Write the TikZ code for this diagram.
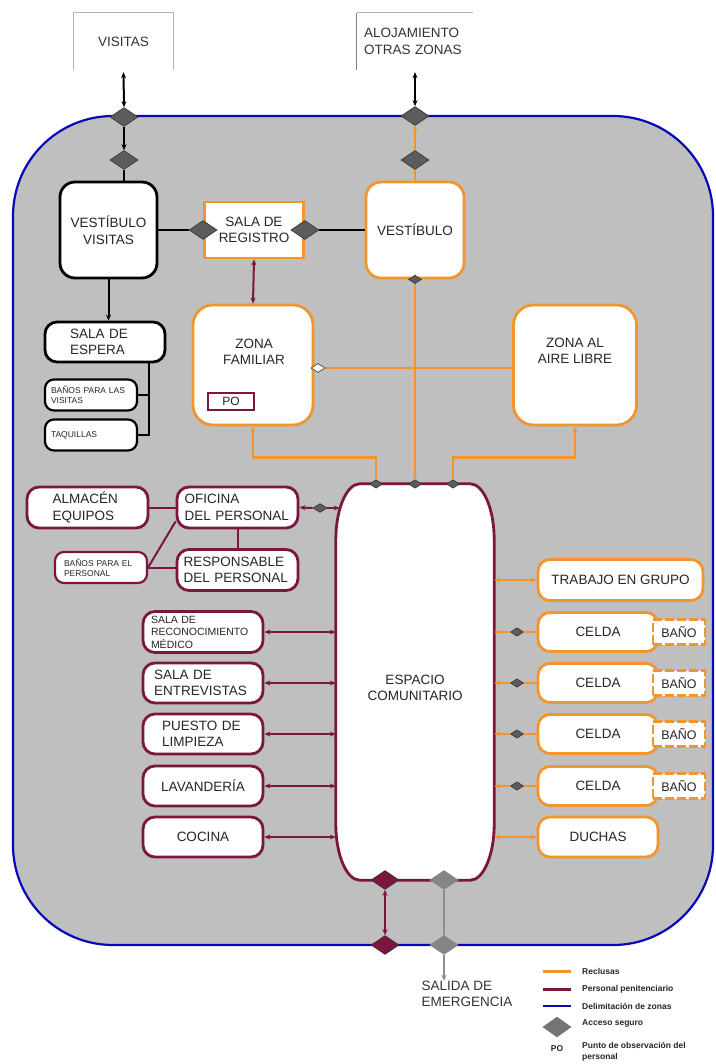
\documentclass[tikz,border=0pt]{standalone}
\usepackage{fontspec}
\setmainfont{Liberation Sans}
\usetikzlibrary{positioning, shapes.geometric, arrows.meta, calc}

\definecolor{naranja}{RGB}{241,150,46}
\definecolor{granate}{RGB}{122,22,64}
\definecolor{azulzona}{RGB}{8,8,185}
\definecolor{fondo}{RGB}{191,191,191}
\definecolor{gris}{RGB}{92,92,92}
\definecolor{grisclaro}{RGB}{140,140,140}

\tikzstyle{sala}=[
  rectangle,
  rounded corners=12pt,
  fill=white,
  line width=2.8pt,
  inner sep=0pt,
  align=center,
  text=black!85,
  font={\fontsize{13.5}{16.5}\selectfont}
]
\tikzstyle{visita}=[sala, draw=black]
\tikzstyle{reclusa}=[sala, draw=naranja]
\tikzstyle{personal}=[sala, draw=granate]
\tikzstyle{chica}=[font={\fontsize{8.5}{10}\selectfont}, line width=2.2pt, rounded corners=9pt]
\tikzstyle{bano}=[rectangle, draw=naranja, dash pattern=on 9pt off 3pt, line width=2.4pt,
  fill=white, inner sep=0pt, minimum width=52pt, minimum height=25pt,
  text=black!85, font={\fontsize{12.5}{14}\selectfont}]
\tikzstyle{acceso}=[diamond, fill=gris, draw=black!80, line width=0.6pt,
  minimum width=28pt, minimum height=19pt, inner sep=0pt]
\tikzstyle{accesop}=[acceso, minimum width=13pt, minimum height=8.5pt]
\tikzstyle{exterior}=[rectangle, inner sep=0pt, text=black!80, font={\fontsize{13.5}{16.5}\selectfont}]
\tikzstyle{rotulo}=[inner sep=0pt, align=center, text=black!85, font={\fontsize{13.5}{16.5}\selectfont}]
\tikzstyle{ley}=[anchor=west, inner sep=0pt, align=left, text=black!85,
  font={\fontsize{8.5}{10.5}\selectfont\bfseries}]
\tikzstyle{lvis}=[draw=black, line width=2pt]
\tikzstyle{lrec}=[draw=naranja, line width=2.6pt]
\tikzstyle{lper}=[draw=granate, line width=2pt]
\tikzstyle{lsal}=[draw=grisclaro, line width=2.4pt]

\begin{document}
\begin{tikzpicture}[x=1pt, y=-1pt, >={Stealth[length=6pt,width=5pt]}]

\newcommand\RADX{24}
\newcommand\RADY{56}

\useasboundingbox (0,0) rectangle (715,1064);

%% zona
\draw[draw=azulzona, fill=fondo, line width=2.2pt, rounded corners=100pt] (13,116) rectangle (713,945);

%% exterior
\node[exterior, minimum width=99pt, minimum height=57pt] (visitas) at (123.5,41.5) {VISITAS};
\node[exterior, minimum width=116pt, minimum height=57pt, text width=102pt, align=left] (alojamiento) at (415,41.5) {ALOJAMIENTO\\OTRAS ZONAS};
\draw[black!30, line width=0.8pt] (visitas.south west) -- (visitas.north west) -- (visitas.north east) -- (visitas.south east);
\draw[black!50, line width=0.8pt] (alojamiento.south west) -- (alojamiento.north west);
\draw[black!30, line width=0.8pt] (alojamiento.north west) -- (alojamiento.north east);

\node[acceso] (visA) at (124,117) {};
\node[acceso] (visB) at (124,160) {};
\node[acceso] (aloA) at (415,116) {};
\node[acceso] (aloB) at (415,160) {};

\draw[lvis, <->] ([yshift=-2pt]visitas.south) -- (visA.north);
\draw[lvis, ->] (visA.south) -- (visB.north);
\draw[lvis, <->] ([yshift=-2pt]alojamiento.south) -- (aloA.north);
\draw[lrec, ->] (aloB.north) -- (aloA.south);

%% visitas
\node[visita, minimum width=97pt, minimum height=96pt, rounded corners=15pt] (vestvis) at (108.5,230) {VESTÍBULO\\VISITAS};
\draw[lvis] (visB.south) -- (visB.south |- vestvis.north);
\node[visita, minimum width=120pt, minimum height=40pt, text width=70pt, align=left] (espera) at (105,342) {SALA DE\\ESPERA};
\draw[lvis, ->] (vestvis.south) -- (vestvis.south |- espera.north);
\node[visita, chica, minimum width=92pt, minimum height=31pt, text width=80pt, align=left] (banosvis) at (91,395) {BAÑOS PARA LAS\\VISITAS};
\node[visita, chica, minimum width=92pt, minimum height=31pt, text width=80pt, align=left] (taquillas) at (91,435) {TAQUILLAS};
\coordinate (esperaJ) at ($(espera.south east)+(-17,0)$);
\draw[lvis] (esperaJ) |- (taquillas.east);
\draw[lvis] (banosvis.east) -- (banosvis.east -| esperaJ);

%% registro y vestibulo
\node[reclusa, rounded corners=0pt, minimum width=99pt, minimum height=56pt] (registro) at (254,230) {SALA DE\\REGISTRO};
\node[reclusa, minimum width=98pt, minimum height=96pt, rounded corners=15pt] (vestibulo) at (415,230) {VESTÍBULO};
\node[acceso] (regA) at (registro.west) {};
\node[acceso] (regB) at (registro.east) {};
\draw[lvis] (vestvis.east) -- (regA.west);
\draw[lvis] (regB.east) -- (vestibulo.west);
\draw[lrec] (aloB.south) -- (vestibulo.north);
\node[accesop] (vestA) at (vestibulo.south) {};

%% zonas de reclusas
\node[reclusa, minimum width=120pt, minimum height=120pt, rounded corners=20pt] (familiar) at (253,365) {};
\node[rotulo] (familiarT) at (254,352) {ZONA\\FAMILIAR};
\node[rectangle, draw=granate, line width=2pt, fill=white, minimum width=46pt, minimum height=17pt,
  inner sep=0pt, text=black!85, font={\fontsize{12}{14}\selectfont}] (po) at (231,401) {PO};
\node[reclusa, minimum width=123pt, minimum height=120pt, rounded corners=20pt] (airelibre) at (575,365) {};
\node[rotulo] (airelibreT) at (575,351) {ZONA AL\\AIRE LIBRE};
\node[accesop, fill=white, minimum width=14pt, minimum height=9pt] (familiarA) at (318,368) {};
\draw[lrec] (familiarA.east) -- (familiarA -| airelibre.west);
\draw[lper, <->] (registro.south) -- (familiar.north);

%% espacio comunitario
\node[minimum width=158pt, minimum height=396pt, inner sep=0pt] (espacio) at (415,682) {};
\draw[draw=granate, line width=2.8pt, fill=white]
  ($(espacio.north west)+(\RADX,0)$) -- ($(espacio.north east)+(-\RADX,0)$)
  .. controls ($(espacio.north east)+(-0.45*\RADX,0)$) and ($(espacio.north east)+(0,0.45*\RADY)$) .. ($(espacio.north east)+(0,\RADY)$)
  -- ($(espacio.south east)+(0,-\RADY)$)
  .. controls ($(espacio.south east)+(0,-0.45*\RADY)$) and ($(espacio.south east)+(-0.45*\RADX,0)$) .. ($(espacio.south east)+(-\RADX,0)$)
  -- ($(espacio.south west)+(\RADX,0)$)
  .. controls ($(espacio.south west)+(0.45*\RADX,0)$) and ($(espacio.south west)+(0,-0.45*\RADY)$) .. ($(espacio.south west)+(0,-\RADY)$)
  -- ($(espacio.north west)+(0,\RADY)$)
  .. controls ($(espacio.north west)+(0,0.45*\RADY)$) and ($(espacio.north west)+(0.45*\RADX,0)$) .. ($(espacio.north west)+(\RADX,0)$)
  -- cycle;
\node[rotulo] (espacioT) at (415,688) {ESPACIO\\COMUNITARIO};

\node[accesop] (espA) at (376,484) {};
\node[accesop] (espB) at (415,484) {};
\node[accesop] (espC) at (453,484) {};
\draw[lrec, ->] (vestA.south) -- (espB.north);
\draw[lrec, ->] (espA.north) -- ++(0,-22) -| (familiar.south);
\draw[lrec, ->] (espC.north) -- ++(0,-22) -| (airelibre.south);

%% personal
\node[personal, minimum width=121pt, minimum height=41pt, text width=70pt, align=left] (almacen) at (87.5,507.5) {ALMACÉN\\EQUIPOS};
\node[personal, minimum width=121pt, minimum height=41pt, text width=106pt, align=left] (oficina) at (237.5,507.5) {OFICINA\\DEL PERSONAL};
\node[personal, chica, minimum width=92pt, minimum height=31pt, text width=74pt, align=left] (banosper) at (101,567.5) {BAÑOS PARA EL\\PERSONAL};
\node[personal, minimum width=121pt, minimum height=41pt, text width=108pt, align=left] (responsable) at (237.5,570) {RESPONSABLE\\DEL PERSONAL};
\draw[lper] (almacen.east) -- (oficina.west);
\draw[lper] (oficina.south) -- (responsable.north);
\draw[lper] (banosper.east) -- (banosper.east -| responsable.west);
\draw[lper] (banosper.east) -- ($(oficina.south west)+(0,-8)$);
\node[accesop, minimum width=14pt, minimum height=9pt] (oficinaA) at (320,508) {};
\draw[lper, <-] (oficina.east) -- (oficinaA.west);
\draw[lper, ->] (oficinaA.east) -- ($(oficinaA -| espacio.west)+(4,0)$);

%% salas del personal
\node[personal, minimum width=120pt, minimum height=41pt, text width=104pt, align=left, font={\fontsize{10.5}{12.5}\selectfont}] (medico) at (203,632) {SALA DE\\RECONOCIMIENTO\\MÉDICO};
\node[personal, minimum width=120pt, minimum height=40pt, text width=98pt, align=left] (entrevistas) at (203,683) {SALA DE\\ENTREVISTAS};
\node[personal, minimum width=120pt, minimum height=40pt, text width=82pt, align=left] (limpieza) at (203,734) {PUESTO DE\\LIMPIEZA};
\node[personal, minimum width=120pt, minimum height=40pt] (lavanderia) at (203,786) {LAVANDERÍA};
\node[personal, minimum width=120pt, minimum height=40pt] (cocina) at (203,837) {COCINA};
\draw[lper, <->] (medico.east) -- (medico.east -| espacio.west);
\draw[lper, <->] (entrevistas.east) -- (entrevistas.east -| espacio.west);
\draw[lper, <->] (limpieza.east) -- (limpieza.east -| espacio.west);
\draw[lper, <->] (lavanderia.east) -- (lavanderia.east -| espacio.west);
\draw[lper, <->] (cocina.east) -- (cocina.east -| espacio.west);

%% celdas
\node[reclusa, minimum width=165pt, minimum height=41pt] (trabajo) at (620.5,580) {TRABAJO EN GRUPO};
\draw[lrec, <->] (trabajo.west -| espacio.east) -- (trabajo.west);

\node[reclusa, minimum width=120pt, minimum height=39pt] (celdaA) at (598,632) {CELDA};
\node[reclusa, minimum width=120pt, minimum height=39pt] (celdaB) at (598,683) {CELDA};
\node[reclusa, minimum width=120pt, minimum height=39pt] (celdaC) at (598,734) {CELDA};
\node[reclusa, minimum width=120pt, minimum height=39pt] (celdaD) at (598,786) {CELDA};
\node[bano] (banoA) at (679,632) {BAÑO};
\node[bano] (banoB) at (679,683) {BAÑO};
\node[bano] (banoC) at (679,734) {BAÑO};
\node[bano] (banoD) at (679,786) {BAÑO};
\node[accesop] (celdaAa) at (517,632) {};
\node[accesop] (celdaBa) at (517,683) {};
\node[accesop] (celdaCa) at (517,734) {};
\node[accesop] (celdaDa) at (517,786) {};
\draw[lrec, <-] (celdaA.west -| espacio.east) -- (celdaAa.west);
\draw[lrec, <-] (celdaB.west -| espacio.east) -- (celdaBa.west);
\draw[lrec, <-] (celdaC.west -| espacio.east) -- (celdaCa.west);
\draw[lrec, <-] (celdaD.west -| espacio.east) -- (celdaDa.west);
\draw[lrec] (celdaAa.east) -- (celdaA.west);
\draw[lrec] (celdaBa.east) -- (celdaB.west);
\draw[lrec] (celdaCa.east) -- (celdaC.west);
\draw[lrec] (celdaDa.east) -- (celdaD.west);

\node[reclusa, minimum width=120pt, minimum height=40pt] (duchas) at (598,837) {DUCHAS};
\draw[lrec, <->] (duchas.west -| espacio.east) -- (duchas.west);

%% salidas
\node[acceso, fill=granate] (salP1) at (385,880) {};
\node[acceso, fill=gris!75, draw=gris!75] (salG1) at (444,880) {};
\node[acceso, fill=granate] (salP2) at (385,945) {};
\node[acceso, fill=gris!75, draw=gris!75] (salG2) at (444,945) {};
\draw[lper, <->] (salP1.south) -- (salP2.north);
\draw[lsal] (salG1.south) -- (salG2.north);
\node[rotulo, align=left, text=black!80] (salida) at (467,994) {SALIDA DE\\EMERGENCIA};
\draw[lsal, ->] (salG2.south) -- (salG2.south |- salida.north);

%% leyenda
\coordinate (leyR) at (543,971);
\coordinate (leyP) at (543,989);
\coordinate (leyZ) at (543,1006);
\draw[naranja, line width=3pt] (leyR) -- ++(28,0);
\draw[granate, line width=3pt] (leyP) -- ++(28,0);
\draw[azulzona, line width=2pt] (leyZ) -- ++(28,0);
\node[acceso, fill=gris!85, draw=gris!85, minimum width=28pt, minimum height=20pt] (leyA) at (557,1027) {};
\node[ley, anchor=center] (leyPO) at (557,1049) {PO};
\node[ley] (leyRt) at (582,971) {Reclusas};
\node[ley] (leyPt) at (582,989) {Personal penitenciario};
\node[ley] (leyZt) at (582,1006) {Delimitación de zonas};
\node[ley] (leyAt) at (582,1023) {Acceso seguro};
\node[ley] (leyPOt) at (582,1052) {Punto de observación del\\personal};

\end{tikzpicture}
\end{document}
